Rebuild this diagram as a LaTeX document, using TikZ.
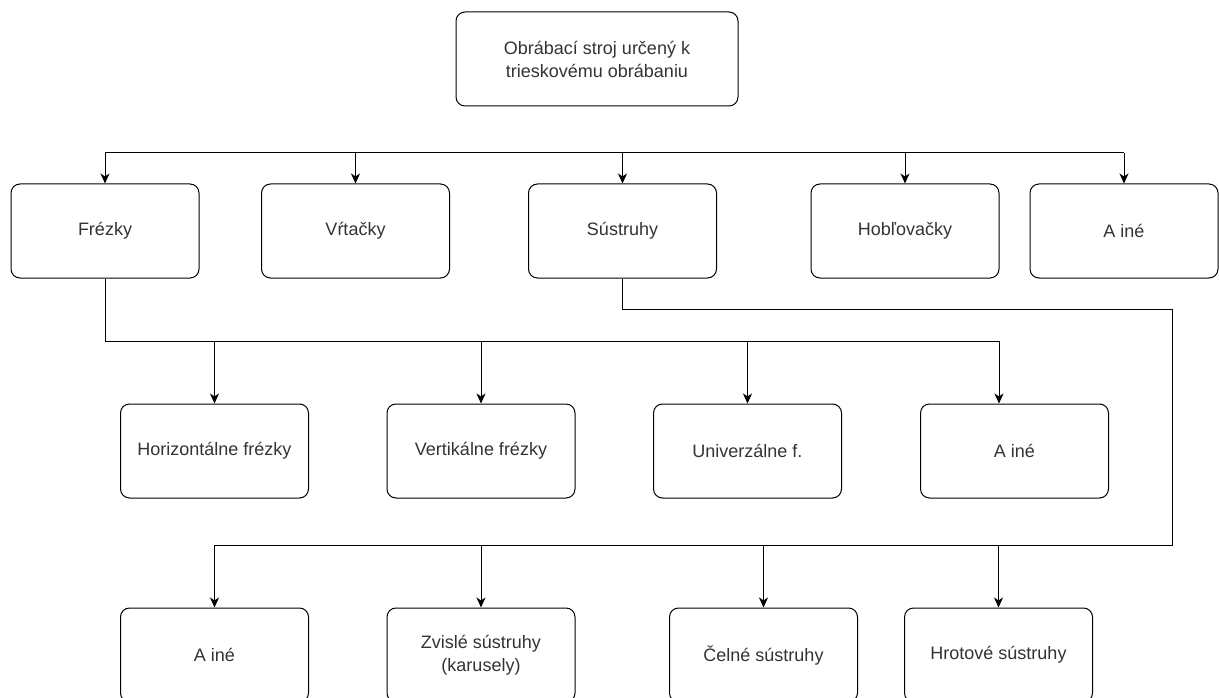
\documentclass[tikz,border=0pt]{standalone}
\usepackage{fontspec}
\setmainfont{Liberation Sans}
\usetikzlibrary{arrows.meta}
\begin{document}
\begin{tikzpicture}[x=1pt,y=-1pt,
  box/.style={draw, line width=1pt, rounded corners=9pt, minimum width=188pt, minimum height=94pt, inner sep=0pt, align=center, text=black!80, font=\fontsize{18}{23}\selectfont},
  ln/.style={line width=1pt},
  arr/.style={line width=1pt, -{Stealth[length=10pt,width=9pt,inset=3pt]}}]
\useasboundingbox (0,0) rectangle (1219,698);
% nodes
\node[box, minimum width=282pt] (top) at (597,59) {Obrábací stroj určený k\\trieskovému obrábaniu};
\node[box] (f)  at (105,231)  {Frézky};
\node[box] (v)  at (355.5,231) {Vŕtačky};
\node[box] (s)  at (622.5,231) {Sústruhy};
\node[box] (h)  at (905,231)  {Hobľovačky};
\node[box] (a1) at (1124,231) {A iné};
\node[box] (hf) at (214.5,451) {Horizontálne frézky};
\node[box] (vf) at (481,451)   {Vertikálne frézky};
\node[box] (uf) at (747.5,451) {Univerzálne f.};
\node[box] (a2) at (1014.5,451) {A iné};
\node[box] (a3) at (214.5,655) {A iné};
\node[box] (zs) at (481,655)   {Zvislé sústruhy\\(karusely)};
\node[box] (cs) at (763.5,655) {Čelné sústruhy};
\node[box] (hs) at (998.5,655) {Hrotové sústruhy};
% row 1 connectors
\coordinate (b1L) at (105,153);
\coordinate (b1R) at (1124,153);
\draw[ln] (b1L) -- (b1R);
\foreach \n in {f,v,s,h,a1} \draw[arr] (\n.north |- b1L) -- (\n.north);
% row 2 connectors
\coordinate (b2R) at (999,341);
\draw[ln] (f.south) |- (b2R);
\foreach \n in {hf,vf,uf} \draw[arr] (\n.north |- b2R) -- (\n.north);
\draw[arr] (b2R) -- (b2R |- a2.north);
% row 3 connectors
\coordinate (c1) at (1172,309);
\coordinate (c2) at (1172,545);
\coordinate (b3L) at (214.5,545);
\draw[ln] (s.south) |- (c1) -- (c2) -- (b3L);
\foreach \n in {a3,zs,cs,hs} \draw[arr] (\n.north |- c2) -- (\n.north);
\end{tikzpicture}
\end{document}
